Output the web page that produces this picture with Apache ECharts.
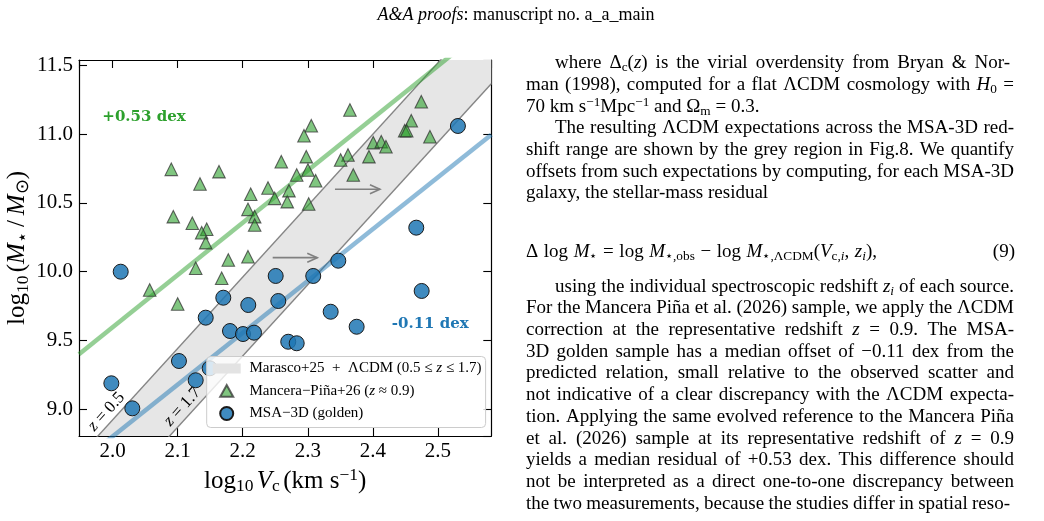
<!DOCTYPE html>
<html><head><meta charset="utf-8">
<script src="https://cdn.jsdelivr.net/npm/echarts@6/dist/echarts.min.js"></script>
<style>html,body{margin:0;padding:0;background:#fff}#c{width:1044px;height:521px}</style>
</head><body><div id="c"></div>
<script>
// ---------------- data ----------------
const xRange = [1.9485, 2.582];
const yRange = [8.806, 11.5385];
const xTicks = [2.0, 2.1, 2.2, 2.3, 2.4, 2.5];
const yTicks = [9.0, 9.5, 10.0, 10.5, 11.0, 11.5];

const manceraX = [2.0903, 2.1636, 2.1344, 2.2593, 2.2389, 2.2123, 2.2491, 2.2685, 2.0934, 2.1226, 2.1447, 2.1370, 2.1432, 2.2081, 2.2184, 2.2184, 2.1779, 2.2081, 2.1278, 2.1677, 2.0571, 2.1001, 2.3648, 2.4744, 2.3054, 2.2942, 2.4590, 2.4489, 2.4520, 2.4877, 2.2977, 2.4006, 2.4129, 2.4201, 2.3618, 2.3505, 2.3940, 2.3003, 2.2830, 2.3121, 2.3699, 2.2711, 2.3014];
const manceraY = [10.744, 10.727, 10.637, 10.799, 10.608, 10.563, 10.533, 10.509, 10.400, 10.352, 10.308, 10.283, 10.211, 10.453, 10.400, 10.339, 10.085, 10.109, 10.025, 9.952, 9.867, 9.765, 11.175, 11.235, 11.061, 10.988, 11.097, 11.025, 11.025, 10.981, 10.836, 10.938, 10.945, 10.908, 10.848, 10.812, 10.836, 10.739, 10.703, 10.661, 10.703, 10.589, 10.492];

const msaX = [2.0126, 1.9982, 2.0304, 2.1021, 2.1278, 2.1493, 2.1432, 2.1702, 2.1805, 2.2005, 2.2174, 2.2086, 2.2507, 2.2547, 2.2700, 2.2830, 2.3084, 2.3469, 2.3352, 2.3751, 2.4750, 2.5307, 2.4667];
const msaY = [10.000, 9.189, 9.007, 9.351, 9.211, 9.298, 9.666, 9.811, 9.569, 9.547, 9.557, 9.758, 9.969, 9.787, 9.491, 9.480, 9.969, 10.080, 9.709, 9.600, 9.860, 11.059, 10.320];

// LCDM band edges (z=0.5 upper-left, z=1.7 lower-right)
const lcdmZ05 = [[1.9485, 8.655], [2.582, 11.944]];
const lcdmZ17 = [[1.9485, 8.085], [2.582, 11.366]];
// offset relations
const manceraFit = [[1.9485, 9.400], [2.582, 11.807]];
const msaFit = [[1.9485, 8.608], [2.582, 10.996]];
// arrows
const arrowFrom = [[2.2461, 10.102], [2.3418, 10.599]];
const arrowTo = [[2.3146, 10.102], [2.4109, 10.599]];
// annotations
const noteX = [2.0484, 2.4882, 1.9908, 2.1075];
const noteY = [11.122, 9.620, 8.983, 9.019];
const noteText = ['+0.53 dex', '-0.11 dex', 'z = 0.5', 'z = 1.7'];

const seriesNames = ['Marasco+25 + ΛCDM (0.5 ≤ z ≤ 1.7)', 'Mancera−Piña+26 (z ≈ 0.9)', 'MSA−3D (golden)'];
const legendRich = ['{n| Marasco+25  +  ΛCDM (0.5 ≤ }{i|z}{n| ≤ 1.7)}', '{n| Mancera−Piña+26 (}{i|z}{n| ≈ 0.9)}', '{n| MSA−3D (golden)}'];

const headerText = '{i|A&A proofs}{n|: manuscript no. a_a_main}';
const bodyLines = [
  ['where Δ{sb|c}({i|z}) is the virial overdensity from Bryan & Nor-', 555, 1010, 63.3, true],
  ['man (1998), computed for a flat ΛCDM cosmology with {i|H}{sb|0} =', 526, 1014, 85.0, true],
  ['70 km s{sp|−1}Mpc{sp|−1} and Ω{sb|m} = 0.3.', 526, 1014, 106.7, false],
  ['The resulting ΛCDM expectations across the MSA-3D red-', 555, 1014, 128.3, true],
  ['shift range are shown by the grey region in Fig.8. We quantify', 526, 1014, 150.0, true],
  ['offsets from such expectations by computing, for each MSA-3D', 526, 1014, 171.7, true],
  ['galaxy, the stellar-mass residual', 526, 1014, 193.3, false],
  ['Δ log {i|M}{sb|⋆} = log {i|M}{sb|⋆,obs} − log {i|M}{sb|⋆,ΛCDM}({i|V}{sb|c,}{sbi|i}, {i|z}{sbi|i}),', 526, 877, 251.7, true],
  ['using the individual spectroscopic redshift {i|z}{sbi|i} of each source.', 555, 1014, 286.7, true],
  ['For the Mancera Piña et al. (2026) sample, we apply the ΛCDM', 526, 1014, 308.4, true],
  ['correction at the representative redshift {i|z} = 0.9. The MSA-', 526, 1014, 330.1, true],
  ['3D golden sample has a median offset of −0.11 dex from the', 526, 1014, 351.8, true],
  ['predicted relation, small relative to the observed scatter and', 526, 1014, 373.5, true],
  ['not indicative of a clear discrepancy with the ΛCDM expecta-', 526, 1014, 395.2, true],
  ['tion. Applying the same evolved reference to the Mancera Piña', 526, 1014, 416.9, true],
  ['et al. (2026) sample at its representative redshift of {i|z} = 0.9', 526, 1014, 438.6, true],
  ['yields a median residual of +0.53 dex. This difference should', 526, 1014, 460.3, true],
  ['not be interpreted as a direct one-to-one discrepancy between', 526, 1014, 482.0, true],
  ['the two measurements, because the studies differ in spatial reso-', 526, 1010, 503.7, true]
];
const eqNumber = '(9)';

// ---------------- helpers ----------------
const FONT = 'Liberation Serif';
function mkRich(F, L, fam, color) {
  const s = Math.round(F * 0.7 * 10) / 10;
  const subOff = 0.15 * F + 0.3375 * F - 0.3375 * s;
  const supOff = 0.35 * F + 0.3375 * s - 0.3375 * F;
  const c = color || '#000';
  const base = { fontFamily: fam, color: c, fill: c };
  return {
    n: Object.assign({}, base, { fontSize: F, lineHeight: L }),
    i: Object.assign({}, base, { fontSize: F, lineHeight: L, fontStyle: 'italic' }),
    sb: Object.assign({}, base, { fontSize: s, lineHeight: L - 2 * subOff, verticalAlign: 'bottom' }),
    sbi: Object.assign({}, base, { fontSize: s, lineHeight: L - 2 * subOff, verticalAlign: 'bottom', fontStyle: 'italic' }),
    sp: Object.assign({}, base, { fontSize: s, lineHeight: L - 2 * supOff, verticalAlign: 'top' })
  };
}
function parseWord(w) {
  const segs = []; const re = /\{(\w+)\|([^}]*)\}|([^{]+)/g; let m;
  while ((m = re.exec(w))) { if (m[1]) segs.push([m[1], m[2]]); else segs.push(['n', m[3]]); }
  return segs;
}
function toRich(segs) { return segs.map(s => '{' + s[0] + '|' + s[1] + '}').join(''); }
const mctx = document.createElement('canvas').getContext('2d');
function measure(segs, rich) {
  let w = 0;
  segs.forEach(s => {
    const st = rich[s[0]];
    mctx.font = (st.fontStyle || 'normal') + ' normal ' + st.fontSize + 'px "' + st.fontFamily + '"';
    w += mctx.measureText(s[1]).width;
  });
  return w;
}

const BODY_RICH = mkRich(19, 22, FONT);
const bodyEls = [];
bodyLines.forEach(line => {
  const [txt, x0, x1, y, just] = line;
  const words = txt.split(' ').map(parseWord);
  const ws = words.map(w => measure(w, BODY_RICH));
  const tot = ws.reduce((a, b) => a + b, 0);
  mctx.font = '19px "' + FONT + '"';
  const sp = mctx.measureText(' ').width;
  const gap = just && words.length > 1 ? (x1 - x0 - tot) / (words.length - 1) : sp;
  let x = x0;
  words.forEach((w, k) => {
    bodyEls.push({ type: 'text', x: x, y: y, silent: true,
      style: { text: toRich(w), rich: BODY_RICH, align: 'left', verticalAlign: 'middle', fill: '#000' } });
    x += ws[k] + gap;
  });
});
bodyEls.push({ type: 'text', x: 1015, y: 251.7, silent: true,
  style: { text: '{n|' + eqNumber + '}', rich: BODY_RICH, align: 'right', verticalAlign: 'middle', fill: '#000' } });
bodyEls.push({ type: 'text', x: 516, y: 15, silent: true,
  style: { text: headerText, rich: mkRich(18, 20, FONT), align: 'center', verticalAlign: 'middle', fill: '#000' } });

// ---------------- chart ----------------
const chart = echarts.init(document.getElementById('c'), null, { renderer: 'canvas' });
const tickFmt = (ticks) => (v) => ticks.some(t => Math.abs(t - v) < 1e-6) ? v.toFixed(1) : '';
const axisCommon = {
  type: 'value', splitLine: { show: false },
  axisLine: { show: true, onZero: false, lineStyle: { color: '#000', width: 1.2 } },
  axisTick: { show: true, inside: true, length: 8, lineStyle: { color: '#000', width: 1.1 } }
};
const AXN = mkRich(25, 29, FONT);
const option = {
  animation: false,
  backgroundColor: '#fff',
  grid: { left: 79, top: 60, right: 552.7, bottom: 85, containLabel: false },
  xAxis: [
    Object.assign({}, axisCommon, {
      min: xRange[0], max: xRange[1], minInterval: 0.1, maxInterval: 0.1, position: 'bottom',
      axisLabel: { show: true, showMinLabel: false, showMaxLabel: false, formatter: tickFmt(xTicks), color: '#000', fontFamily: FONT, fontSize: 21, margin: 5 },
      name: '{n|log}{sb|10} {i|V}{sb|c} {n|(km s}{sp|−1}{n|)}', nameLocation: 'middle', nameGap: 24.5,
      nameTextStyle: { rich: AXN, color: '#000' }
    }),
    Object.assign({}, axisCommon, {
      min: xRange[0], max: xRange[1], minInterval: 0.1, maxInterval: 0.1, position: 'top',
      axisLabel: { show: false }
    })
  ],
  yAxis: [
    Object.assign({}, axisCommon, {
      min: yRange[0], max: yRange[1], minInterval: 0.5, maxInterval: 0.5, position: 'left',
      axisLabel: { show: true, showMinLabel: false, showMaxLabel: false, formatter: tickFmt(yTicks), color: '#000', fontFamily: FONT, fontSize: 21, margin: 6 },
      name: '{n|log}{sb|10} {n|(}{i|M}{sb|⋆}{n|\u2009/\u2009}{i|M}{sb|⊙}{n|)}', nameLocation: 'middle', nameGap: 39.5, nameRotate: 90,
      nameTextStyle: { rich: AXN, color: '#000' }
    }),
    Object.assign({}, axisCommon, {
      min: yRange[0], max: yRange[1], minInterval: 0.5, maxInterval: 0.5, position: 'right',
      axisLabel: { show: false }
    })
  ],
  legend: {
    show: true, orient: 'vertical', left: 206.7, top: 356.5,
    padding: [4, 4, 6, 5], itemGap: 6.5, itemWidth: 28, itemHeight: 13,
    backgroundColor: 'rgba(255,255,255,0.8)', borderColor: '#cccccc', borderWidth: 1, borderRadius: 4,
    data: [
      { name: seriesNames[0], icon: 'path://M0,0H28V10H0Z', itemStyle: { color: '#e3e3e3', borderWidth: 0 } },
      { name: seriesNames[1], icon: 'path://M0,0M28,13M14,0.5L20.5,12.2L7.5,12.2Z' },
      { name: seriesNames[2], icon: 'circle' }
    ],
    formatter: (n) => legendRich[seriesNames.indexOf(n)],
    textStyle: { fontFamily: FONT, fontSize: 15, lineHeight: 16, color: '#000', rich: mkRich(15, 16, FONT) },
    selectedMode: false
  },
  graphic: [{ type: 'group', children: bodyEls }],
  series: [
    {
      type: 'custom', name: seriesNames[0], coordinateSystem: 'cartesian2d', clip: true, z: 1, silent: true,
      itemStyle: { color: '#e6e6e6' },
      data: [[lcdmZ05[0][0], lcdmZ05[0][1]]],
      renderItem: (params, api) => {
        const pts = lcdmZ05.map(p => api.coord(p)).concat(lcdmZ17.slice().reverse().map(p => api.coord(p)));
        return { type: 'polygon', shape: { points: pts }, style: { fill: '#e6e6e6' } };
      }
    },
    { type: 'line', name: 'z05', data: lcdmZ05, showSymbol: false, symbol: 'none', z: 2, silent: true,
      lineStyle: { color: '#858585', width: 1.4 } },
    { type: 'line', name: 'z17', data: lcdmZ17, showSymbol: false, symbol: 'none', z: 2, silent: true,
      lineStyle: { color: '#858585', width: 1.4 } },
    { type: 'line', name: 'fitMancera', data: manceraFit, showSymbol: false, symbol: 'none', z: 2, silent: true,
      lineStyle: { color: 'rgba(44,160,44,0.5)', width: 4.5 } },
    { type: 'line', name: 'fitMSA', data: msaFit, showSymbol: false, symbol: 'none', z: 2, silent: true,
      lineStyle: { color: 'rgba(31,119,180,0.5)', width: 4.5 } },
    {
      type: 'custom', name: 'arrows', coordinateSystem: 'cartesian2d', z: 2, silent: true,
      data: arrowFrom.map((p, i) => [p[0], p[1], arrowTo[i][0], arrowTo[i][1]]),
      renderItem: (params, api) => {
        const a = api.coord([api.value(0), api.value(1)]);
        const b = api.coord([api.value(2), api.value(3)]);
        const st = { stroke: '#808080', lineWidth: 1.6, fill: null };
        return { type: 'group', children: [
          { type: 'line', shape: { x1: a[0], y1: a[1], x2: b[0], y2: b[1] }, style: st },
          { type: 'polyline', shape: { points: [[b[0] - 10, b[1] - 4.5], [b[0], b[1]], [b[0] - 10, b[1] + 4.5]] }, style: st }
        ] };
      }
    },
    {
      type: 'scatter', name: seriesNames[1], z: 3, silent: true,
      data: manceraX.map((x, i) => [x, manceraY[i]]),
      symbol: 'triangle', symbolSize: 12.5,
      itemStyle: { color: 'rgba(44,160,44,0.6)', borderColor: 'rgba(50,50,50,0.75)', borderWidth: 1.1, opacity: 1 }
    },
    {
      type: 'scatter', name: seriesNames[2], z: 3, silent: true,
      data: msaX.map((x, i) => [x, msaY[i]]),
      symbol: 'circle', symbolSize: 15,
      itemStyle: { color: 'rgba(31,119,180,0.85)', borderColor: '#1a1a1a', borderWidth: 1, opacity: 1 }
    },
    {
      type: 'custom', name: 'notes', coordinateSystem: 'cartesian2d', z: 3, silent: true,
      data: noteX.map((x, i) => [x, noteY[i], i]),
      renderItem: (params, api) => {
        const i = api.value(2);
        const p = api.coord([api.value(0), api.value(1)]);
        const txt = noteText[i];
        if (i < 2) {
          return { type: 'text', x: p[0], y: p[1], style: {
            text: txt, fill: i === 0 ? '#2ca02c' : '#1f77b4', fontFamily: 'DejaVu Serif', fontWeight: 'bold', fontSize: 15,
            align: 'center', verticalAlign: 'middle' } };
        }
        const ln = i === 2 ? lcdmZ05 : lcdmZ17;
        const a = api.coord(ln[0]), b = api.coord(ln[1]);
        const ang = Math.atan2(a[1] - b[1], b[0] - a[0]);
        const parts = txt.split(' ');
        return { type: 'text', x: p[0], y: p[1], rotation: ang, style: {
          text: '{i|' + parts[0] + '}{n| ' + parts.slice(1).join(' ') + '}', rich: mkRich(17, 19, FONT),
          align: 'center', verticalAlign: 'middle', fill: '#000' } };
      }
    }
  ]
};
chart.setOption(option);
</script></body></html>
